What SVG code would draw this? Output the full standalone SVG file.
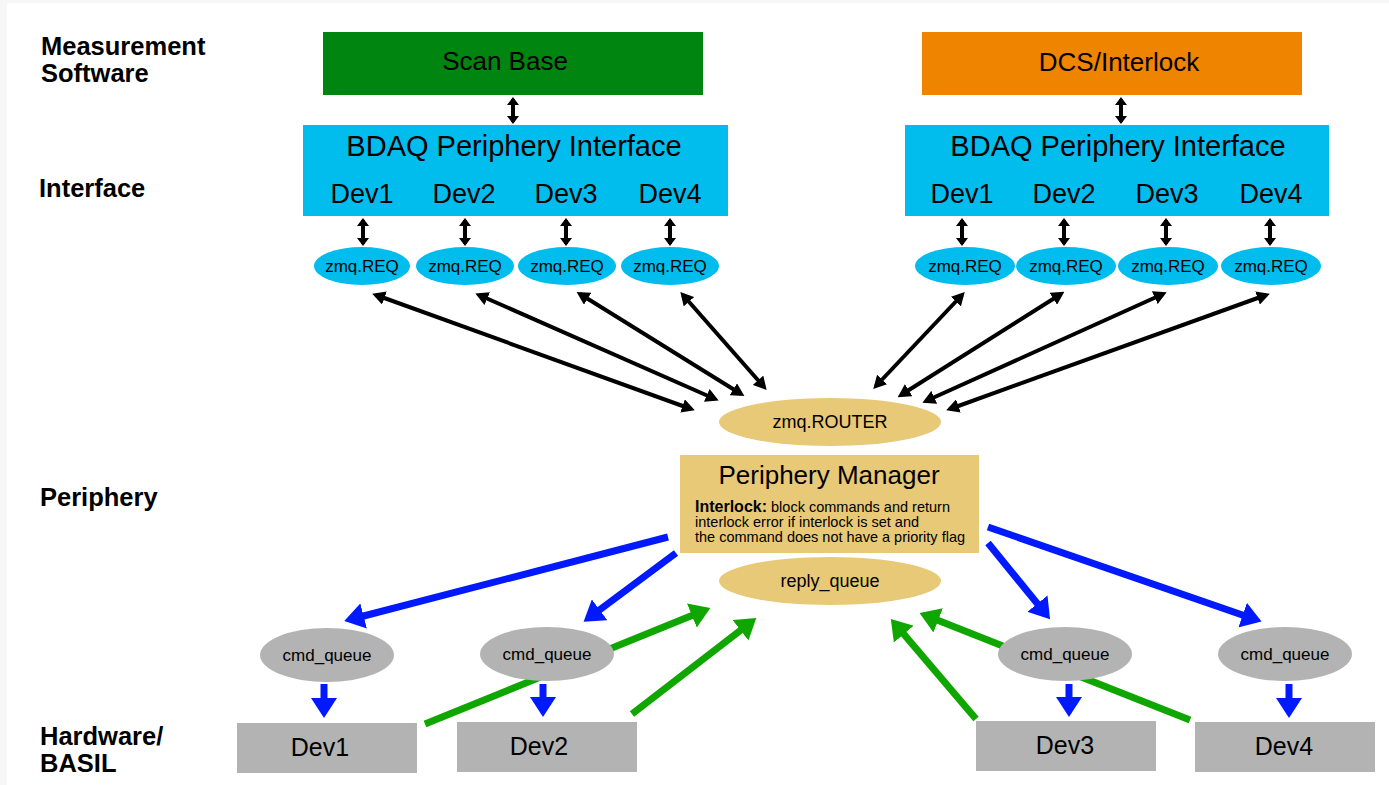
<svg xmlns="http://www.w3.org/2000/svg" width="1389" height="785" viewBox="0 0 1389 785">
<defs>
<style>
text{font-family:"Liberation Sans",Arial,sans-serif;fill:#000}
.lbl{font-weight:bold;font-size:25.5px}
.big{font-size:27px;text-anchor:middle}
.req{font-size:17px;text-anchor:middle}
.q{font-size:17px;text-anchor:middle}
.note{font-size:14.5px}
.blk{stroke:#000;stroke-width:4;fill:none}
.vs{stroke:#000;stroke-width:4;fill:none;marker-start:url(#hs);marker-end:url(#hs)}
.blu{stroke:#0019ff;stroke-width:7;fill:none}
.grn{stroke:#10a600;stroke-width:7;fill:none}
.cyan{fill:#00bdee}
.sand{fill:#e8c977}
.gray{fill:#b3b3b3}
</style>
<marker id="hb" markerUnits="userSpaceOnUse" viewBox="0 0 13 14" refX="9" refY="7" markerWidth="13" markerHeight="14" orient="auto-start-reverse"><path d="M0,0L13,7L0,14z" fill="#000"/></marker>
<marker id="hs" markerUnits="userSpaceOnUse" viewBox="0 0 8 12" refX="6" refY="6" markerWidth="8" markerHeight="12" orient="auto-start-reverse"><path d="M0,0L8,6L0,12z" fill="#000"/></marker>
<marker id="hu" markerUnits="userSpaceOnUse" viewBox="0 0 20 26" refX="12" refY="13" markerWidth="20" markerHeight="26" orient="auto"><path d="M0,0L20,13L0,26z" fill="#0019ff"/></marker>
<marker id="hg" markerUnits="userSpaceOnUse" viewBox="0 0 20 26" refX="12" refY="13" markerWidth="20" markerHeight="26" orient="auto"><path d="M0,0L20,13L0,26z" fill="#10a600"/></marker>
</defs>
<rect x="0" y="0" width="1389" height="785" fill="#f7f7f7"/>
<rect x="7" y="3" width="1382" height="782" fill="#fff"/>

<g id="labels">
<text class="lbl" x="41" y="55">Measurement</text>
<text class="lbl" x="41" y="82">Software</text>
<text class="lbl" x="39" y="197">Interface</text>
<text class="lbl" x="40" y="506">Periphery</text>
<text class="lbl" x="40" y="745">Hardware/</text>
<text class="lbl" x="40" y="772">BASIL</text>
</g>

<g id="connectors">
<line class="vs" x1="513" y1="99" x2="513" y2="122"/>
<line class="vs" x1="1121" y1="99" x2="1121" y2="122"/>
<line class="vs" x1="363" y1="220" x2="363" y2="244"/>
<line class="vs" x1="465" y1="220" x2="465" y2="244"/>
<line class="vs" x1="566" y1="220" x2="566" y2="244"/>
<line class="vs" x1="670" y1="220" x2="670" y2="244"/>
<line class="vs" x1="962" y1="220" x2="962" y2="244"/>
<line class="vs" x1="1064" y1="220" x2="1064" y2="244"/>
<line class="vs" x1="1166" y1="220" x2="1166" y2="244"/>
<line class="vs" x1="1270" y1="220" x2="1270" y2="244"/>
<line class="blk" x1="376" y1="295" x2="691" y2="409" marker-start="url(#hb)" marker-end="url(#hb)"/>
<line class="blk" x1="479" y1="295" x2="715" y2="399" marker-start="url(#hb)" marker-end="url(#hb)"/>
<line class="blk" x1="580" y1="294" x2="741" y2="394" marker-start="url(#hb)" marker-end="url(#hb)"/>
<line class="blk" x1="683" y1="295" x2="764" y2="387" marker-start="url(#hb)" marker-end="url(#hb)"/>
<line class="blk" x1="962" y1="295" x2="876" y2="386" marker-start="url(#hb)" marker-end="url(#hb)"/>
<line class="blk" x1="1061" y1="294" x2="901" y2="395" marker-start="url(#hb)" marker-end="url(#hb)"/>
<line class="blk" x1="1163" y1="294" x2="926" y2="401" marker-start="url(#hb)" marker-end="url(#hb)"/>
<line class="blk" x1="1266" y1="295" x2="950" y2="409" marker-start="url(#hb)" marker-end="url(#hb)"/>
<line class="blu" x1="668" y1="537" x2="352" y2="619" marker-end="url(#hu)"/>
<line class="blu" x1="676" y1="553" x2="590" y2="617" marker-end="url(#hu)"/>
<line class="blu" x1="988" y1="527" x2="1254" y2="619" marker-end="url(#hu)"/>
<line class="blu" x1="988" y1="543" x2="1045" y2="613" marker-end="url(#hu)"/>
<line class="blu" x1="324" y1="684" x2="324" y2="710" marker-end="url(#hu)"/>
<line class="blu" x1="543" y1="684" x2="543" y2="709" marker-end="url(#hu)"/>
<line class="blu" x1="1069" y1="684" x2="1069" y2="709" marker-end="url(#hu)"/>
<line class="blu" x1="1289" y1="684" x2="1289" y2="710" marker-end="url(#hu)"/>
<line class="grn" x1="425" y1="724" x2="703" y2="611" marker-end="url(#hg)"/>
<line class="grn" x1="632" y1="714" x2="750" y2="623" marker-end="url(#hg)"/>
<line class="grn" x1="976" y1="719" x2="896" y2="625" marker-end="url(#hg)"/>
<line class="grn" x1="1190" y1="720" x2="927" y2="616" marker-end="url(#hg)"/>
</g>

<g id="scanbase"><rect x="323" y="32" width="380" height="63" fill="#008510"/><text class="big" x="505" y="70" style="font-size:26px">Scan Base</text></g>
<g id="dcs"><rect x="922" y="32" width="380" height="63" fill="#ef8400"/><text class="big" x="1119" y="71" style="font-size:26px">DCS/Interlock</text></g>

<g id="bdaq-left"><rect class="cyan" x="303" y="125" width="425" height="91"/>
<text class="big" x="514" y="156" style="font-size:29px">BDAQ Periphery Interface</text>
<text class="big" x="362" y="203">Dev1</text><text class="big" x="464" y="203">Dev2</text><text class="big" x="566" y="203">Dev3</text><text class="big" x="670" y="203">Dev4</text></g>
<g id="bdaq-right"><rect class="cyan" x="905" y="125" width="424" height="91"/>
<text class="big" x="1118" y="156" style="font-size:29px">BDAQ Periphery Interface</text>
<text class="big" x="962" y="203">Dev1</text><text class="big" x="1064" y="203">Dev2</text><text class="big" x="1167" y="203">Dev3</text><text class="big" x="1271" y="203">Dev4</text></g>

<g id="req-l1"><ellipse class="cyan" cx="362" cy="266" rx="48" ry="19"/><text class="req" x="362" y="272">zmq.REQ</text></g>
<g id="req-l2"><ellipse class="cyan" cx="465" cy="266" rx="49" ry="19"/><text class="req" x="465" y="272">zmq.REQ</text></g>
<g id="req-l3"><ellipse class="cyan" cx="567" cy="266" rx="49" ry="19"/><text class="req" x="567" y="272">zmq.REQ</text></g>
<g id="req-l4"><ellipse class="cyan" cx="670" cy="266" rx="49" ry="19"/><text class="req" x="670" y="272">zmq.REQ</text></g>
<g id="req-r1"><ellipse class="cyan" cx="965" cy="266" rx="50" ry="19"/><text class="req" x="965" y="272">zmq.REQ</text></g>
<g id="req-r2"><ellipse class="cyan" cx="1066" cy="266" rx="50" ry="19"/><text class="req" x="1066" y="272">zmq.REQ</text></g>
<g id="req-r3"><ellipse class="cyan" cx="1168" cy="266" rx="50" ry="19"/><text class="req" x="1168" y="272">zmq.REQ</text></g>
<g id="req-r4"><ellipse class="cyan" cx="1271" cy="266" rx="50" ry="19"/><text class="req" x="1271" y="272">zmq.REQ</text></g>

<g id="router"><ellipse class="sand" cx="830" cy="422" rx="111" ry="24"/><text class="req" x="830" y="428" style="font-size:18px">zmq.ROUTER</text></g>
<g id="manager"><rect class="sand" x="680" y="455" width="299" height="98"/>
<text class="big" x="829" y="484" style="font-size:26px">Periphery Manager</text>
<text class="note" x="695" y="512"><tspan font-weight="bold" style="font-size:16px">Interlock:</tspan> block commands and return</text>
<text class="note" x="695" y="527">interlock error if interlock is set and</text>
<text class="note" x="695" y="542">the command does not have a priority flag</text></g>
<g id="reply"><ellipse class="sand" cx="830" cy="581" rx="111" ry="24"/><text class="req" x="830" y="587" style="font-size:18px">reply_queue</text></g>

<g id="cmd1"><ellipse class="gray" cx="327" cy="655" rx="67" ry="27"/><text class="q" x="327" y="661">cmd_queue</text></g>
<g id="cmd2"><ellipse class="gray" cx="547" cy="654" rx="67" ry="27"/><text class="q" x="547" y="660">cmd_queue</text></g>
<g id="cmd3"><ellipse class="gray" cx="1065" cy="654" rx="67" ry="27"/><text class="q" x="1065" y="660">cmd_queue</text></g>
<g id="cmd4"><ellipse class="gray" cx="1285" cy="654" rx="67" ry="27"/><text class="q" x="1285" y="660">cmd_queue</text></g>

<g id="hw1"><rect class="gray" x="237" y="723" width="180" height="50"/><text class="big" x="320" y="756" style="font-size:25px">Dev1</text></g>
<g id="hw2"><rect class="gray" x="457" y="722" width="180" height="50"/><text class="big" x="539" y="755" style="font-size:25px">Dev2</text></g>
<g id="hw3"><rect class="gray" x="976" y="721" width="180" height="50"/><text class="big" x="1065" y="754" style="font-size:25px">Dev3</text></g>
<g id="hw4"><rect class="gray" x="1195" y="722" width="180" height="50"/><text class="big" x="1284" y="755" style="font-size:25px">Dev4</text></g>
</svg>
